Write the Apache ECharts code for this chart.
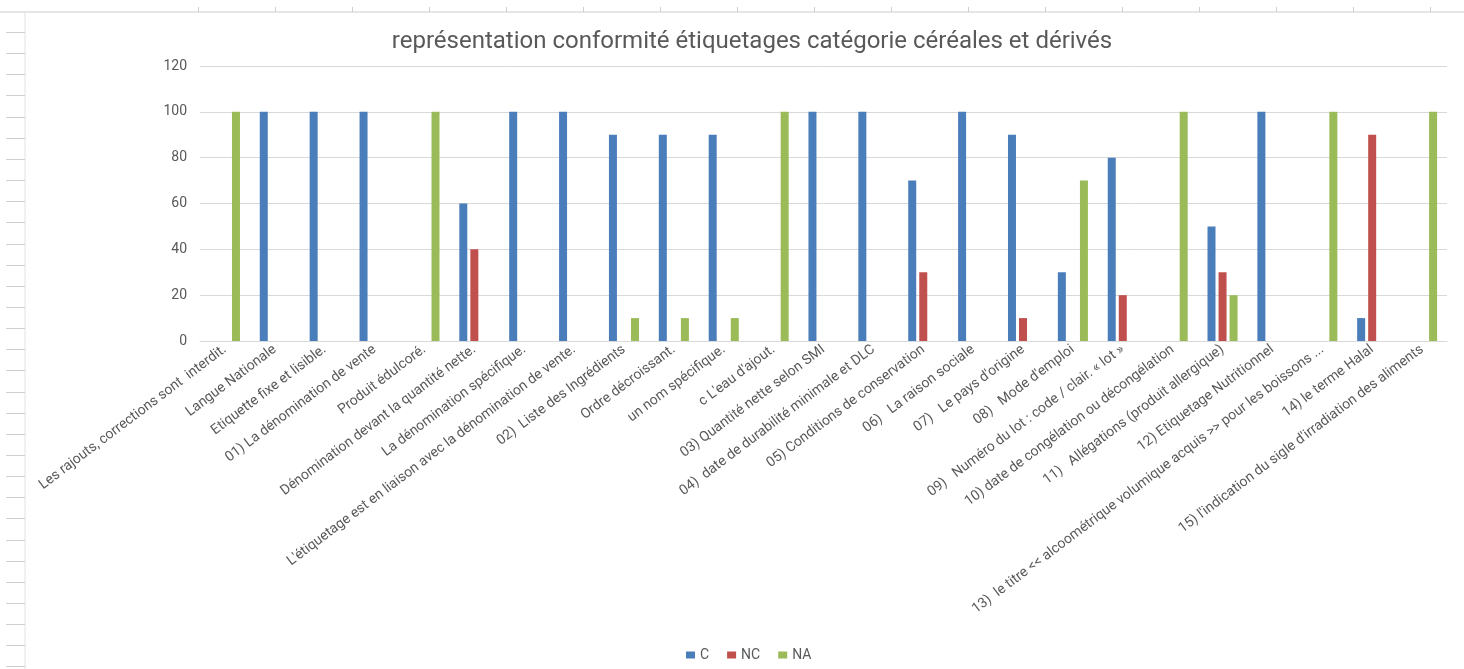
<!DOCTYPE html>
<html><head><meta charset="utf-8">
<script src="https://cdn.jsdelivr.net/npm/echarts@6/dist/echarts.min.js"></script>
<style>html,body{margin:0;padding:0;background:#fff}#c{width:1464px;height:669px}</style>
</head><body><div id="c"></div>
<script>
const categories = [
  "Les rajouts, corrections sont  interdit.",
  "Langue Nationale",
  "Etiquette fixe et lisible.",
  "01) La dénomination de vente",
  "Produit édulcoré.",
  "Dénomination devant la quantité nette.",
  "La dénomination spécifique.",
  "L'étiquetage est en liaison avec la dénomination de vente.",
  "02)  Liste des Ingrédients",
  "Ordre décroissant.",
  "un nom spécifique.",
  "c L'eau d'ajout.",
  "03) Quantité nette selon SMI",
  "04)  date de durabilité minimale et DLC",
  "05) Conditions de conservation",
  "06)   La raison sociale",
  "07)   Le pays d'origine",
  "08)   Mode d'emploi",
  "09)   Numéro du lot : code / clair. « lot »",
  "10) date de congélation ou décongélation",
  "11)   Allégations (produit allergique)",
  "12) Etiquetage Nutritionnel",
  "13)  le titre << alcoométrique volumique acquis >> pour les boissons ...",
  "14) le terme Halal",
  "15) l'indication du sigle d'irradiation des aliments"
];
const seriesNames = ["C", "NC", "NA"];
const valuesC  = [null,100,100,100,null,60,100,100,90,90,90,null,100,100,70,100,90,30,80,null,50,100,null,10,null];
const valuesNC = [null,null,null,null,null,40,null,null,null,null,null,null,null,null,30,null,10,null,20,null,30,null,null,90,null];
const valuesNA = [100,null,null,null,100,null,null,null,10,10,10,100,null,null,null,null,null,70,null,100,20,null,100,null,100];
const yTicks = [0,20,40,60,80,100,120];
const chartTitle = "représentation conformité étiquetages catégorie céréales et dérivés";

const colors = ["#4a7ebb", "#c0504d", "#9bbb59"];
const font = "Roboto, 'Liberation Sans', sans-serif";

// decorative spreadsheet frame
const deco = [];
deco.push({type:'line', shape:{x1:0,y1:12,x2:1464,y2:12}, style:{stroke:'#dcdcdc',lineWidth:1.5}, silent:true});
deco.push({type:'line', shape:{x1:25,y1:12,x2:25,y2:669}, style:{stroke:'#e2e2e2',lineWidth:1}, silent:true});
for (let y = 32; y < 669; y += 21.15) {
  deco.push({type:'line', shape:{x1:6,y1:Math.round(y)+0.5,x2:25,y2:Math.round(y)+0.5}, style:{stroke:'#cfcfcf',lineWidth:1}, silent:true});
}
for (let x = 198; x < 1464; x += 77) {
  deco.push({type:'line', shape:{x1:Math.round(x)+0.5,y1:7,x2:Math.round(x)+0.5,y2:12}, style:{stroke:'#cfcfcf',lineWidth:1}, silent:true});
}

const chart = echarts.init(document.getElementById('c'));
chart.setOption({
  animation: false,
  color: colors,
  title: {
    text: chartTitle, left: 747, top: 25, textAlign: 'center',
    textStyle: {fontFamily: font, fontSize: 24, fontWeight: 'normal', color: '#595959'}
  },
  legend: {
    data: seriesNames, top: 643, left: 681,
    icon: 'rect', itemWidth: 9, itemHeight: 7, itemGap: 18,
    textStyle: {fontFamily: font, fontSize: 14, color: '#595959'}
  },
  grid: {left: 200, right: 17, top: 66, bottom: 328, containLabel: false},
  xAxis: {
    type: 'category', data: categories,
    axisLine: {lineStyle: {color: '#d9d9d9'}},
    axisTick: {show: false},
    axisLabel: {rotate: 37, interval: 0, margin: 7, fontFamily: font, fontSize: 14, color: '#595959'}
  },
  yAxis: {
    type: 'value', min: yTicks[0], max: yTicks[yTicks.length-1], interval: 20,
    axisLine: {show: false}, axisTick: {show: false},
    splitLine: {lineStyle: {color: '#d9d9d9'}},
    axisLabel: {margin: 13, fontFamily: font, fontSize: 14, color: '#595959'}
  },
  series: [
    {name: seriesNames[0], type: 'bar', data: valuesC, barWidth: 8, barGap: '38%'},
    {name: seriesNames[1], type: 'bar', data: valuesNC, barWidth: 8, barGap: '38%'},
    {name: seriesNames[2], type: 'bar', data: valuesNA, barWidth: 8, barGap: '38%'}
  ],
  graphic: deco
});
</script></body></html>
